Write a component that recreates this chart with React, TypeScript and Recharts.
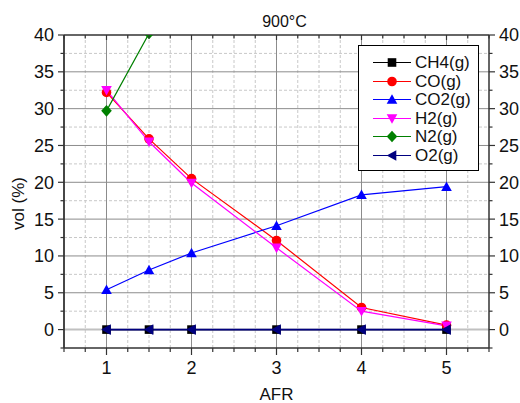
import React from 'react';
import { LineChart, Line, XAxis, YAxis, CartesianGrid } from 'recharts';

// ---- data ----
const afr = [1, 1.5, 2, 3, 4, 5];
const ch4 = [0, 0, 0, 0, 0, 0];
const co = [32.2, 25.9, 20.5, 12.1, 3.0, 0.6];
const co2 = [5.4, 8.1, 10.4, 14.1, 18.3, 19.4];
const h2 = [32.5, 25.5, 19.9, 11.1, 2.5, 0.5];
const n2 = [29.7, 40.2, 47.5, 56.0, 62.5, 65.5];
const o2 = [0, 0, 0, 0, 0, 0];

const xMajorTicks = [1, 2, 3, 4, 5];
const xMinorTicks = [0.5, 0.75, 1, 1.25, 1.5, 1.75, 2, 2.25, 2.5, 2.75, 3, 3.25, 3.5, 3.75, 4, 4.25, 4.5, 4.75, 5, 5.25, 5.5];
const yAllTicks = [-2.5, 0, 2.5, 5, 7.5, 10, 12.5, 15, 17.5, 20, 22.5, 25, 27.5, 30, 32.5, 35, 37.5, 40];
const yMinorGrid = [2.5, 7.5, 12.5, 17.5, 22.5, 27.5, 32.5, 37.5];
const xMinorGrid = [0.75, 1.25, 1.5, 1.75, 2.25, 2.5, 2.75, 3.25, 3.5, 3.75, 4.25, 4.5, 4.75, 5.25];
const yMajorGrid = [5, 10, 15, 20, 25, 30, 35];

const seriesDefs = [
  { key: 'CH4', name: 'CH4(g)', values: ch4, color: '#000000', shape: 'square', width: 1.2 },
  { key: 'CO', name: 'CO(g)', values: co, color: '#ff0000', shape: 'circle', width: 1.2 },
  { key: 'CO2', name: 'CO2(g)', values: co2, color: '#0000ff', shape: 'up', width: 1.2 },
  { key: 'H2', name: 'H2(g)', values: h2, color: '#ff00ff', shape: 'down', width: 1.2 },
  { key: 'N2', name: 'N2(g)', values: n2, color: '#008000', shape: 'diamond', width: 1.2 },
  { key: 'O2', name: 'O2(g)', values: o2, color: '#000080', shape: 'left', width: 1.8 },
];

const data = afr.map((x, i) => {
  const row: any = { afr: x };
  seriesDefs.forEach((s) => { row[s.key] = s.values[i]; });
  return row;
});

const FONT = '"Liberation Sans", Arial, Helvetica, sans-serif';
const AXIS = '#333333';

function markerShape(shape: string, cx: number, cy: number, color: string, r = 4.8) {
  switch (shape) {
    case 'square':
      return <rect x={cx - r + 0.5} y={cy - r + 0.5} width={2 * r - 1} height={2 * r - 1} fill={color} />;
    case 'circle':
      return <circle cx={cx} cy={cy} r={r} fill={color} />;
    case 'up':
      return <polygon points={`${cx},${cy - r - 0.5} ${cx + r + 0.5},${cy + r - 0.5} ${cx - r - 0.5},${cy + r - 0.5}`} fill={color} />;
    case 'down':
      return <polygon points={`${cx},${cy + r + 0.5} ${cx + r + 0.5},${cy - r + 0.5} ${cx - r - 0.5},${cy - r + 0.5}`} fill={color} />;
    case 'diamond':
      return <polygon points={`${cx},${cy - r - 1} ${cx + r + 0.5},${cy} ${cx},${cy + r + 1} ${cx - r - 0.5},${cy}`} fill={color} />;
    case 'left':
      return <polygon points={`${cx - r - 0.5},${cy} ${cx + r - 0.5},${cy - r - 0.5} ${cx + r - 0.5},${cy + r + 0.5}`} fill={color} />;
    default:
      return null;
  }
}

const makeDot = (shape: string, color: string) => (p: any) => {
  const { cx, cy, index } = p;
  if (cx == null || cy == null) return <g key={index} />;
  return <g key={index}>{markerShape(shape, cx, cy, color)}</g>;
};

const tickText = { fontFamily: FONT, fontSize: 18, fill: '#111' };

const LeftTick = (p: any) => {
  const { x, y, payload } = p;
  const v = payload.value;
  const major = v % 5 === 0;
  return (
    <g>
      <line x1={x} x2={x - (major ? 6 : 3.5)} y1={y} y2={y} stroke={AXIS} strokeWidth={1.2} />
      {major && (
        <text x={x - 10} y={y} dy="0.36em" textAnchor="end" {...tickText}>{v}</text>
      )}
    </g>
  );
};

const RightTick = (p: any) => {
  const { x, y, payload } = p;
  const v = payload.value;
  const major = v % 5 === 0;
  return (
    <g>
      <line x1={x} x2={x + (major ? 6 : 3.5)} y1={y} y2={y} stroke={AXIS} strokeWidth={1.2} />
      {major && (
        <text x={x + 10} y={y} dy="0.36em" textAnchor="start" {...tickText}>{v}</text>
      )}
    </g>
  );
};

const BottomTick = (p: any) => {
  const { x, y, payload } = p;
  const v = payload.value;
  const major = Number.isInteger(v);
  return (
    <g>
      <line x1={x} x2={x} y1={y} y2={y + (major ? 7 : 4)} stroke={AXIS} strokeWidth={1.2} />
      {major && (
        <text x={x} y={y + 25.5} textAnchor="middle" {...tickText}>{v}</text>
      )}
    </g>
  );
};

const TopTick = (p: any) => {
  const { x, y, payload } = p;
  const v = payload.value;
  const major = Number.isInteger(v);
  return (
    <g>
      <line x1={x} x2={x} y1={y} y2={y + (major ? 5 : 3.5)} stroke={AXIS} strokeWidth={1.2} />
    </g>
  );
};

const Legend = () => (
  <div
    style={{
      position: 'absolute',
      left: 358,
      top: 45,
      width: 119,
      height: 124,
      border: '1px solid #000',
      background: '#fff',
      fontFamily: FONT,
      fontSize: 17,
      color: '#111',
      boxSizing: 'content-box',
    }}
  >
    {seriesDefs.map((s, i) => (
      <div key={s.key} style={{ position: 'absolute', left: 0, top: 7 + i * 18.6, height: 19, width: 119 }}>
        <svg width={52} height={19} style={{ position: 'absolute', left: 0, top: 0 }}>
          <line x1={14} x2={52} y1={9.5} y2={9.5} stroke={s.color} strokeWidth={1.2} />
          {markerShape(s.shape, 33, 9.5, s.color)}
        </svg>
        <span style={{ position: 'absolute', left: 56, top: 0, lineHeight: '19px', whiteSpace: 'nowrap' }}>{s.name}</span>
      </div>
    ))}
  </div>
);

export default function App() {
  return (
    <div style={{ position: 'absolute', left: 0, top: 0, width: 520, height: 403, background: '#fff' }}>
      <LineChart
        width={520}
        height={403}
        data={data}
        margin={{ top: 5, right: 1, bottom: 5, left: 4 }}
      >
        <CartesianGrid xAxisId="b" yAxisId="l" stroke="#c8c8c8" strokeDasharray="3 2" verticalValues={xMinorGrid} horizontalValues={yMinorGrid} />
        <CartesianGrid xAxisId="b" yAxisId="l" stroke="#8c8c8c" strokeWidth={1} verticalValues={xMajorTicks} horizontalValues={yMajorGrid} />
        <CartesianGrid xAxisId="b" yAxisId="l" stroke="#c0c0c0" strokeWidth={2} vertical={false} horizontalValues={[0]} />
        <XAxis
          xAxisId="b"
          dataKey="afr"
          type="number"
          domain={[0.5, 5.5]}
          ticks={xMinorTicks}
          interval={0}
          allowDataOverflow
          height={50}
          tickSize={0}
          tickMargin={0}
          tickLine={false}
          tick={<BottomTick />}
          axisLine={{ stroke: AXIS, strokeWidth: 1.5 }}
          label={{
            content: (lp: any) => {
              const vb = lp.viewBox;
              return (
                <text x={vb.x + vb.width / 2} y={vb.y + 52} textAnchor="middle" fontFamily={FONT} fontSize={17} fill="#111">AFR</text>
              );
            },
          }}
        />
        <XAxis
          xAxisId="t"
          orientation="top"
          dataKey="afr"
          type="number"
          domain={[0.5, 5.5]}
          ticks={xMinorTicks}
          interval={0}
          allowDataOverflow
          height={30}
          tickSize={0}
          tickMargin={0}
          tickLine={false}
          tick={<TopTick />}
          axisLine={{ stroke: AXIS, strokeWidth: 1.5 }}
          label={{
            content: (lp: any) => {
              const vb = lp.viewBox;
              return (
                <text x={vb.x + vb.width / 2 + 8} y={vb.y + 22} textAnchor="middle" fontFamily={FONT} fontSize={16} fill="#111">900°C</text>
              );
            },
          }}
        />
        <YAxis
          yAxisId="l"
          type="number"
          domain={[-2.5, 40]}
          ticks={yAllTicks}
          interval={0}
          allowDataOverflow
          width={60}
          tickSize={0}
          tickMargin={0}
          tickLine={false}
          tick={<LeftTick />}
          axisLine={{ stroke: AXIS, strokeWidth: 1.8 }}
          label={{
            content: (lp: any) => {
              const vb = lp.viewBox;
              const cx = 18;
              const cy = vb.y + vb.height / 2 + 12;
              return (
                <text x={cx} y={cy} transform={`rotate(-90 ${cx} ${cy})`} textAnchor="middle" dy="0.36em" fontFamily={FONT} fontSize={17} fill="#111">vol (%)</text>
              );
            },
          }}
        />
        <YAxis
          yAxisId="r"
          orientation="right"
          type="number"
          domain={[-2.5, 40]}
          ticks={yAllTicks}
          interval={0}
          allowDataOverflow
          width={30}
          tickSize={0}
          tickMargin={0}
          tickLine={false}
          tick={<RightTick />}
          axisLine={{ stroke: AXIS, strokeWidth: 1.5 }}
        />
        {seriesDefs.map((s) => (
          <Line
            key={s.key}
            xAxisId="b"
            yAxisId="l"
            type="linear"
            dataKey={s.key}
            name={s.name}
            stroke={s.color}
            strokeWidth={s.width}
            dot={makeDot(s.shape, s.color)}
            activeDot={false}
            isAnimationActive={false}
          />
        ))}
      </LineChart>
      <Legend />
    </div>
  );
}
